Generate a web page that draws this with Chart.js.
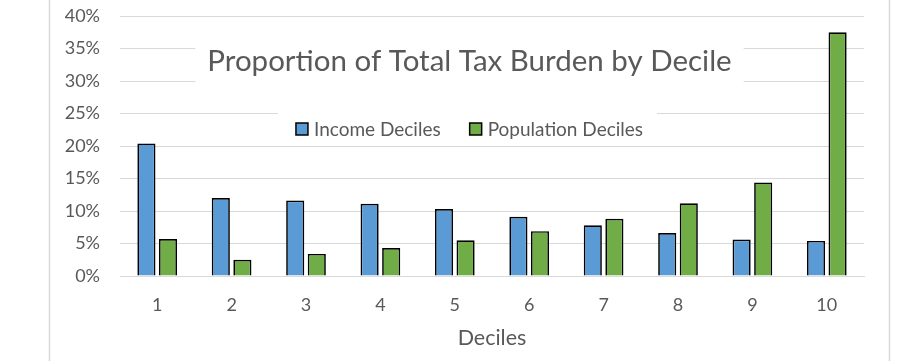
<!DOCTYPE html>
<html>
<head>
<meta charset="utf-8">
<script src="https://cdn.jsdelivr.net/npm/chart.js@4/dist/chart.umd.min.js"></script>
<style>
	html, body { margin: 0; padding: 0; background: #ffffff; }
	#wrap { width: 912px; height: 361px; }
</style>
</head>
<body>
<div id="wrap"><canvas id="chart0" width="912" height="361"></canvas></div>
<script>
	// 読み取った値 (%)
	const deciles = ['1', '2', '3', '4', '5', '6', '7', '8', '9', '10'];
	const incomeDeciles = [20.4, 12.0, 11.6, 11.1, 10.3, 9.1, 7.8, 6.6, 5.6, 5.4];
	const populationDeciles = [5.7, 2.5, 3.4, 4.3, 5.5, 6.9, 8.8, 11.2, 14.4, 37.5];
	const seriesNames = ['Income Deciles', 'Population Deciles'];
	const chartTitle = 'Proportion of Total Tax Burden by Decile';
	const axisTitle = 'Deciles';

	const FONT = "Lato, 'Open Sans', sans-serif";
	const TEXT = '#595959';
	const GRID = '#d9d9d9';

	/**
	 * タイトルと凡例はグリッドの上に白い箱で重ねる (Excel 風)
	 */
	const overlayPlugin = {
		id: 'overlay',
		beforeDraw(chart) {
			let ctx = chart.ctx;
			ctx.save();
			ctx.strokeStyle = GRID;
			ctx.lineWidth = 1.5;
			ctx.beginPath();
			ctx.moveTo(49.5, 0); ctx.lineTo(49.5, chart.height);
			ctx.moveTo(889.5, 0); ctx.lineTo(889.5, chart.height);
			ctx.stroke();
			ctx.restore();
		},
		beforeDatasetsDraw(chart) {
			let ctx = chart.ctx;
			let center = 469.5;
			ctx.save();

			// タイトル
			ctx.font = '29.5px ' + FONT;
			let tw = ctx.measureText(chartTitle).width;
			ctx.fillStyle = '#ffffff';
			ctx.fillRect(center - tw / 2 - 12, 36, tw + 24, 47);
			ctx.fillStyle = TEXT;
			ctx.textAlign = 'center';
			ctx.textBaseline = 'middle';
			ctx.fillText(chartTitle, center, 61);

			// 凡例
			ctx.font = '19px ' + FONT;
			let box = 12, gapText = 6, gapItem = 29;
			let widths = seriesNames.map(n => ctx.measureText(n).width);
			let total = box + gapText + widths[0] + gapItem + box + gapText + widths[1];
			let x = center - total / 2;
			let y = 129;
			ctx.fillStyle = '#ffffff';
			ctx.fillRect(x - 18, 100, total + 32, 46);
			ctx.textAlign = 'left';
			chart.data.datasets.forEach((ds, i) => {
				ctx.fillStyle = ds.backgroundColor;
				ctx.fillRect(x, y - box / 2, box, box);
				ctx.strokeStyle = '#000000';
				ctx.lineWidth = 1.5;
				ctx.strokeRect(x, y - box / 2, box, box);
				ctx.fillStyle = TEXT;
				ctx.fillText(seriesNames[i], x + box + gapText, y + 1);
				x += box + gapText + widths[i] + gapItem;
			});
			ctx.restore();
		}
	};

	let config = {
		type: 'bar',
		data: {
			labels: deciles,
			datasets: [{
				label: seriesNames[0],
				data: incomeDeciles,
				backgroundColor: '#5b9bd5',
				borderColor: '#000000',
				borderWidth: 1.7
			}, {
				label: seriesNames[1],
				data: populationDeciles,
				backgroundColor: '#70ad47',
				borderColor: '#000000',
				borderWidth: 1.7
			}]
		},
		options: {
			responsive: false,
			animation: false,
			layout: {
				padding: { left: 0, right: 48, top: 16, bottom: 0 }
			},
			datasets: {
				bar: {
					categoryPercentage: 0.58,
					barPercentage: 0.84
				}
			},
			plugins: {
				legend: { display: false },
				title: { display: false },
				tooltip: { enabled: false }
			},
			scales: {
				x: {
					grid: { display: false, drawTicks: false },
					border: { display: true, color: GRID, width: 1 },
					ticks: {
						padding: 18,
						color: TEXT,
						font: { family: FONT, size: 18 }
					},
					title: {
						display: true,
						text: axisTitle,
						color: TEXT,
						font: { family: FONT, size: 21.5 },
						padding: { top: 0, bottom: 10 }
					},
					afterFit: function(scale) {
						scale.height = 85;
						scale.paddingLeft = 0;
						scale.paddingRight = 0;
					}
				},
				y: {
					min: 0,
					max: 40,
					grid: { color: GRID, lineWidth: 1, drawTicks: false },
					border: { display: false },
					ticks: {
						stepSize: 5,
						padding: 20,
						color: TEXT,
						font: { family: FONT, size: 18 },
						callback: v => v + '%'
					},
					afterFit: function(scale) {
						scale.width = 120;
						// ticks.padding が上下の余白にも足されるので消す
						scale.paddingTop = 0;
						scale.paddingBottom = 0;
					}
				}
			}
		},
		plugins: [overlayPlugin]
	};

	let myChart = new Chart(document.getElementById('chart0').getContext('2d'), config);
</script>
</body>
</html>
